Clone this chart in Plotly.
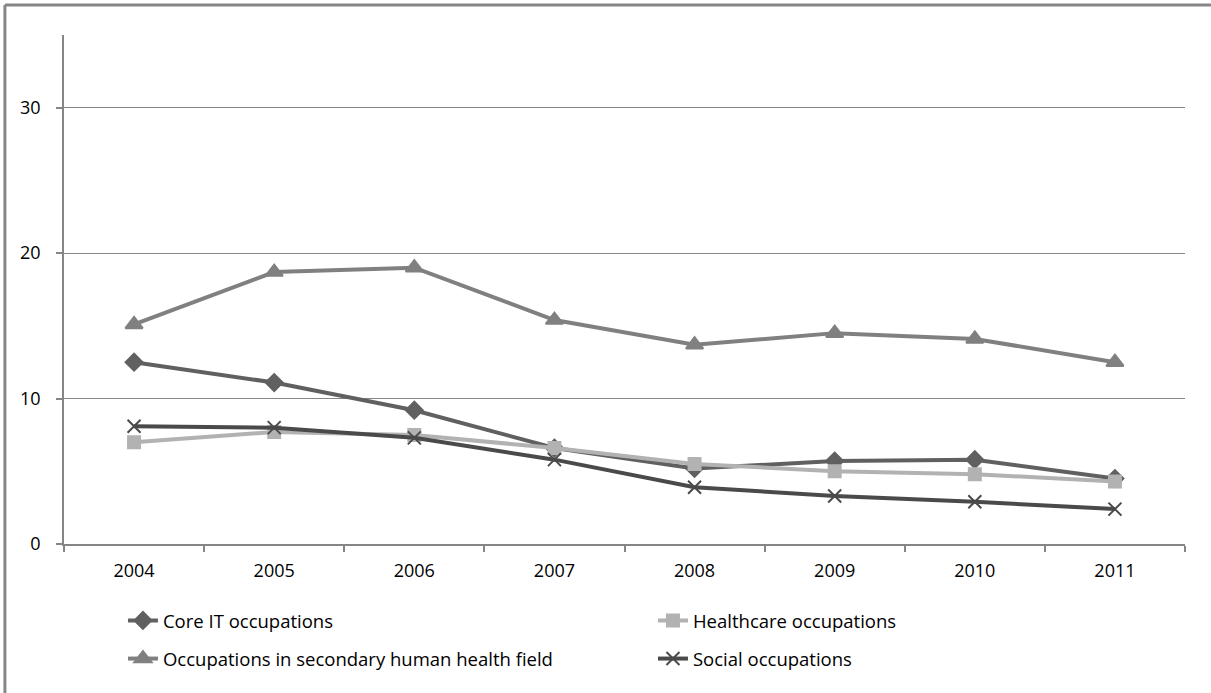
import plotly.graph_objects as go

years = ["2004", "2005", "2006", "2007", "2008", "2009", "2010", "2011"]
core_it = [12.5, 11.1, 9.2, 6.6, 5.2, 5.7, 5.8, 4.5]
healthcare = [7.0, 7.7, 7.5, 6.6, 5.5, 5.0, 4.8, 4.3]
secondary = [15.1, 18.7, 19.0, 15.4, 13.7, 14.5, 14.1, 12.5]
social = [8.1, 8.0, 7.3, 5.8, 3.9, 3.3, 2.9, 2.4]

series = [
    ("Core IT occupations", core_it, "#606060", "diamond", 13, "legend"),
    ("Healthcare occupations", healthcare, "#b2b2b2", "square", 12, "legend"),
    ("Occupations in secondary human health field", secondary, "#808080", "triangle-up", 15, "legend2"),
    ("Social occupations", social, "#4a4a4a", "x-thin-open", 13, "legend2"),
]

fig = go.Figure()
for name, vals, color, sym, size, lg in series:
    fig.add_trace(go.Scatter(
        x=years, y=vals, name=name, mode="lines+markers",
        line=dict(color=color, width=4),
        marker=dict(symbol=sym, size=size, color=color,
                    line=dict(color=color, width=2)),
        legend=lg,
    ))

font = dict(family="Open Sans, Liberation Sans, sans-serif", size=18, color="#000000")
lfont = dict(family="Open Sans, Liberation Sans, sans-serif", size=18.5, color="#000000")
fig.update_layout(
    width=1211, height=693,
    margin=dict(l=64, r=26, t=35, b=149, autoexpand=False),
    paper_bgcolor="white", plot_bgcolor="white",
    font=font,
    showlegend=True,
    legend=dict(orientation="h", x=0.0526, y=-0.151, xanchor="left", yanchor="middle",
                entrywidth=485, entrywidthmode="pixels", font=lfont,
                bgcolor="rgba(0,0,0,0)"),
    legend2=dict(orientation="h", x=0.0526, y=-0.226, xanchor="left", yanchor="middle",
                 entrywidth=485, entrywidthmode="pixels", font=lfont,
                 bgcolor="rgba(0,0,0,0)"),
    xaxis=dict(type="category", tickson="boundaries", ticks="outside", ticklen=6,
               tickcolor="#868686", tickwidth=1.5, showline=True, linecolor="#868686",
               linewidth=1.5, showgrid=False, tickfont=font, range=[-0.5, 7.5],
               ticklabelstandoff=10),
    yaxis=dict(range=[0, 35], tickvals=[0, 10, 20, 30], ticks="outside", ticklen=6,
               tickcolor="#868686", tickwidth=1.5, showline=True, linecolor="#868686",
               linewidth=1.5, showgrid=True, gridcolor="#868686", gridwidth=1.2,
               zeroline=False, tickfont=font, ticklabelstandoff=12),
)
fig.add_shape(type="line", xref="paper", yref="paper", x0=-0.0527, x1=-0.0527,
              y0=1.059, y1=-0.4, line=dict(color="#868686", width=3))
fig.add_shape(type="line", xref="paper", yref="paper", x0=-0.0527, x1=1.05,
              y0=1.059, y1=1.059, line=dict(color="#868686", width=3))
fig.write_html("out.html", config={"displayModeBar": False},
               post_script="document.body.style.margin='0px';document.body.style.overflow='hidden';")
